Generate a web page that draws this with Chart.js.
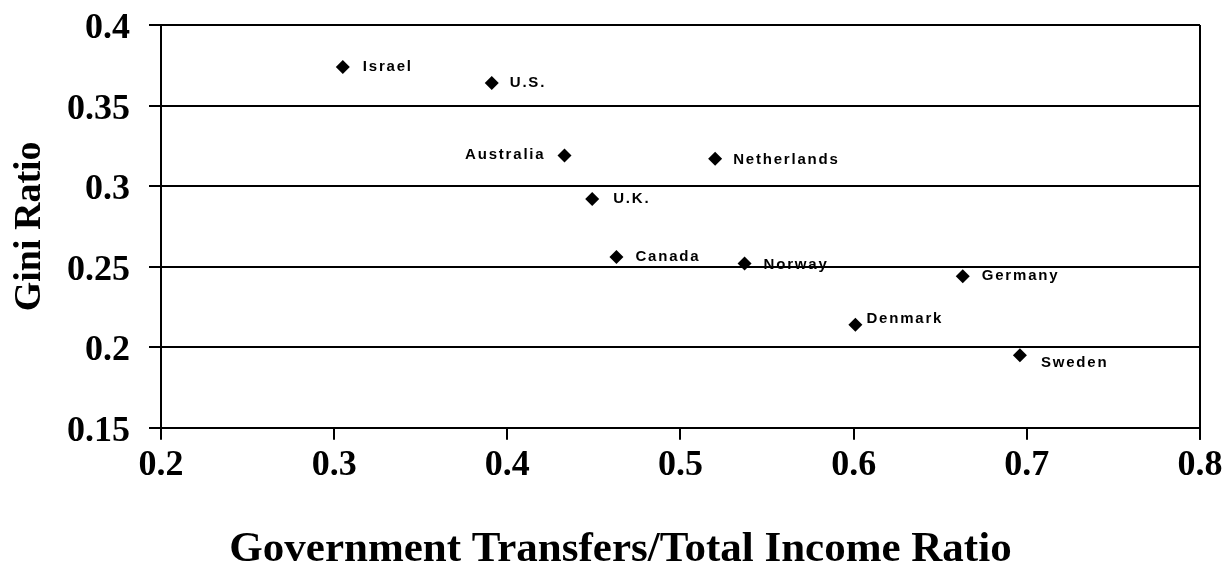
<!DOCTYPE html>
<html>
<head>
<meta charset="utf-8">
<script src="https://cdn.jsdelivr.net/npm/chart.js@4.4.0/dist/chart.umd.min.js"></script>
<style>
  html, body { margin: 0; padding: 0; background: #fff; }
  #wrap { width: 1227px; height: 566px; }
</style>
</head>
<body>
<div id="wrap"><canvas id="myChart"></canvas></div>
<script>
// data
const countries = ["Israel", "U.S.", "Australia", "U.K.", "Canada", "Norway", "Netherlands", "Denmark", "Germany", "Sweden"];
const transfers = [0.305, 0.391, 0.433, 0.449, 0.463, 0.537, 0.520, 0.601, 0.663, 0.696];
const gini = [0.374, 0.364, 0.319, 0.292, 0.256, 0.252, 0.317, 0.214, 0.244, 0.195];
const xTickLabels = ["0.2", "0.3", "0.4", "0.5", "0.6", "0.7", "0.8"];
const yTickLabels = ["0.15", "0.2", "0.25", "0.3", "0.35", "0.4"];

// where each label sits relative to its marker
const labelOffsets = {
  "Israel": [20, 0, "left"],
  "U.S.": [18, 0, "left"],
  "Australia": [-19, -1, "right"],
  "U.K.": [21, 0, "left"],
  "Canada": [19, 0, "left"],
  "Norway": [19, 1, "left"],
  "Netherlands": [18, 1, "left"],
  "Denmark": [11, -6, "left"],
  "Germany": [19, 0, "left"],
  "Sweden": [21, 8, "left"],
};

const pointLabels = {
  id: "pointLabels",
  afterDatasetsDraw(chart) {
    const ctx = chart.ctx;
    const meta = chart.getDatasetMeta(0);
    ctx.save();
    ctx.font = "bold 15px Arial, 'Liberation Sans', sans-serif";
    ctx.letterSpacing = "1.8px";
    ctx.fillStyle = "#000";
    ctx.textBaseline = "middle";
    meta.data.forEach((pt, i) => {
      const off = labelOffsets[countries[i]] || [18, 0, "left"];
      ctx.textAlign = off[2];
      ctx.fillText(countries[i], pt.x + off[0], pt.y + off[1]);
    });
    ctx.restore();
  },
};

// right edge of the plot box
const plotBox = {
  id: "plotBox",
  afterDraw(chart) {
    const { ctx, chartArea } = chart;
    ctx.save();
    ctx.strokeStyle = "#000";
    ctx.lineWidth = 2;
    ctx.beginPath();
    ctx.moveTo(chartArea.right, chartArea.top);
    ctx.lineTo(chartArea.right, chartArea.bottom + 12);
    ctx.stroke();
    ctx.restore();
  },
};

const serif = "'Times New Roman', 'Liberation Serif', serif";

new Chart(document.getElementById("myChart"), {
  type: "scatter",
  data: {
    datasets: [
      {
        data: transfers.map((x, i) => ({ x: x, y: gini[i] })),
        pointStyle: "rectRot",
        radius: 7,
        hoverRadius: 7,
        backgroundColor: "#000",
        borderColor: "#000",
        borderWidth: 0,
      },
    ],
  },
  options: {
    responsive: true,
    maintainAspectRatio: false,
    animation: false,
    layout: { padding: { top: 25, right: 0, left: 14, bottom: 0 } },
    plugins: {
      legend: { display: false },
      tooltip: { enabled: false },
      // x axis title
      title: {
        display: true,
        position: "bottom",
        text: "Government Transfers/Total Income Ratio",
        color: "#000",
        padding: 0,
        font: { family: serif, size: 43, weight: "bold", lineHeight: 0.75 },
      },
    },
    scales: {
      x: {
        type: "linear",
        min: 0.2,
        max: 0.8,
        afterFit: (s) => { s.height = 106; s.paddingRight = 27; },
        ticks: {
          stepSize: 0.1,
          color: "#000",
          padding: 4,
          maxRotation: 0,
          font: { family: serif, size: 36, weight: "bold" },
          callback: (v, i) => xTickLabels[i],
        },
        grid: { drawOnChartArea: false, drawTicks: true, tickLength: 12, color: "#000", lineWidth: 2 },
        border: { display: true, color: "#000", width: 2 },
      },
      y: {
        type: "linear",
        min: 0.15,
        max: 0.4,
        afterFit: (s) => { s.width = 147; s.paddingTop = 0; s.paddingBottom = 0; },
        ticks: {
          stepSize: 0.05,
          color: "#000",
          padding: 19,
          labelOffset: 4,
          font: { family: serif, size: 36, weight: "bold" },
          callback: (v, i) => yTickLabels[i],
        },
        grid: { drawTicks: true, tickLength: 12, color: "#000", lineWidth: 2 },
        border: { display: true, color: "#000", width: 2 },
        title: {
          display: true,
          text: "Gini Ratio",
          color: "#000",
          padding: 0,
          font: { family: serif, size: 38, weight: "bold", lineHeight: 0.85 },
        },
      },
    },
  },
  plugins: [pointLabels, plotBox],
});
</script>
</body>
</html>
